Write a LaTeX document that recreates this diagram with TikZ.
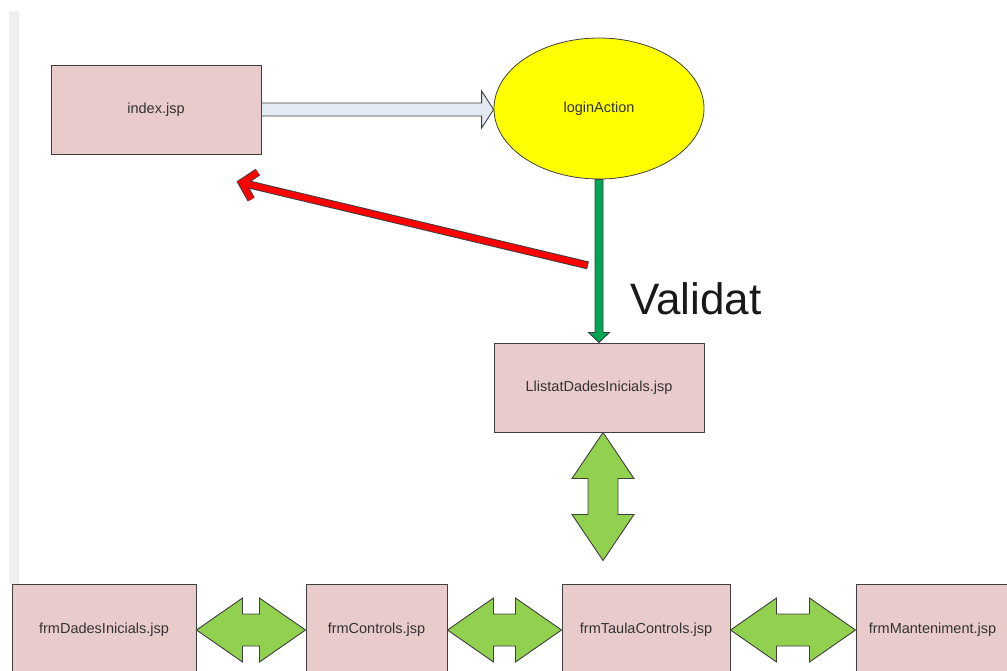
\documentclass[tikz,border=0pt]{standalone}
\usepackage{fontspec}
\setmainfont{Liberation Sans}
\usepackage{xcolor}
\usepackage{tikz}
\usetikzlibrary{positioning}
\usetikzlibrary{arrows.meta}
\usetikzlibrary{shapes.geometric}
\usetikzlibrary{calc}

\definecolor{boxpink}{HTML}{E8CBCA}
\definecolor{edgegray}{HTML}{3F3F3F}
\definecolor{linkblue}{HTML}{E3EAF4}
\definecolor{okgreen}{HTML}{00A651}
\definecolor{swapgreen}{HTML}{92D050}
\definecolor{margingray}{HTML}{EFEFEF}
\definecolor{loginyellow}{HTML}{FFFF00}

\begin{document}
\begin{tikzpicture}[
  x=1pt, y=-1pt,
  page/.style={
    rectangle,
    draw=edgegray,
    line width=1pt,
    fill=boxpink,
    minimum width=#1,
    minimum height=89pt,
    inner sep=0pt,
    text=black!80,
    font=\fontsize{14.5}{17}\selectfont
  },
  action/.style={
    ellipse,
    draw=edgegray,
    line width=0.8pt,
    fill=loginyellow,
    minimum width=210pt,
    minimum height=141pt,
    inner sep=0pt,
    text=black!80,
    font=\fontsize{14.5}{17}\selectfont
  },
  blockarr/.style={draw=edgegray, line width=0.9pt, fill=#1, line join=miter},
  backarr/.style={line width=#1, -{Straight Barb[length=13pt, width=28pt]}}
]
\useasboundingbox (0,0) rectangle (1007,670);

% left margin strip
\fill[margingray] (9,11) rectangle (19,584);

% Top row
\node[page=210pt] (index) at (156,109.5) {index.jsp};
\node[action] (login) at (599,108.5) {loginAction};

% Middle
\node[page=210pt] (llistat) at (599,387.5) {LlistatDadesInicials.jsp};
\node[anchor=base west, inner sep=0pt, font=\fontsize{44}{50}\selectfont, text=black!90] (validat) at (630,314) {Validat};

% Bottom row (cut by the page edge)
\node[page=184pt, minimum height=92pt] (dades) at (104,630) {frmDadesInicials.jsp};
\node[page=141pt, minimum height=92pt] (ctrls) at (376.5,630) {frmControls.jsp};
\node[page=168pt, minimum height=92pt] (taula) at (646,630) {frmTaulaControls.jsp};
\node[page=153pt, minimum height=92pt] (mant) at (932.5,630) {frmManteniment.jsp};

% index -> loginAction
\coordinate (logintip) at (index.east -| login.west);
\draw[blockarr=linkblue] ($(index.east)+(0,-6.5)$) -- ($(logintip)+(-12,-6.5)$) -- ++(0,-12)
  -- (logintip) -- ++(-12,18.5) -- ++(0,-12) -- ($(index.east)+(0,6.5)$) -- cycle;

% validated: loginAction -> Llistat
\draw[blockarr=okgreen] ($(login.south)+(-4,0)$) -- ($(llistat.north)+(-4,-10)$) -- ++(-6.5,0)
  -- (llistat.north) -- ++(10.5,-10) -- ++(-6.5,0) -- ($(login.south)+(4,0)$) -- cycle;

% not validated: back to index
\coordinate (rettail) at ($(login.south)+(-11,86)$);
\coordinate (rettip) at ($(index.south east)+(-25,27)$);
\draw[backarr=8pt, edgegray] (rettail) -- (rettip);
\draw[backarr=6pt, red, shorten <=1pt, shorten >=1.4pt] (rettail) -- (rettip);

% Llistat <-> forms
\coordinate (vtop) at ($(llistat.south)+(4,0)$);
\coordinate (vbot) at ($(llistat.south)+(4,128)$);
\draw[blockarr=swapgreen] (vtop) -- ++(-31,46) -- ++(16,0) -- ($(vbot)+(-15,-46)$) -- ++(-16,0)
  -- (vbot) -- ++(31,-46) -- ++(-16,0) -- ($(vtop)+(15,46)$) -- ++(16,0) -- cycle;

% between the forms
\draw[blockarr=swapgreen] (dades.east) -- ++(46,-32) -- ++(0,16) -- ($(ctrls.west)+(-46,-16)$) -- ++(0,-16)
  -- (ctrls.west) -- ++(-46,32) -- ++(0,-16) -- ($(dades.east)+(46,16)$) -- ++(0,16) -- cycle;
\draw[blockarr=swapgreen] (ctrls.east) -- ++(46,-32) -- ++(0,16) -- ($(taula.west)+(-46,-16)$) -- ++(0,-16)
  -- (taula.west) -- ++(-46,32) -- ++(0,-16) -- ($(ctrls.east)+(46,16)$) -- ++(0,16) -- cycle;
\draw[blockarr=swapgreen] (taula.east) -- ++(46,-32) -- ++(0,16) -- ($(mant.west)+(-46,-16)$) -- ++(0,-16)
  -- (mant.west) -- ++(-46,32) -- ++(0,-16) -- ($(taula.east)+(46,16)$) -- ++(0,16) -- cycle;

\end{tikzpicture}
\end{document}
